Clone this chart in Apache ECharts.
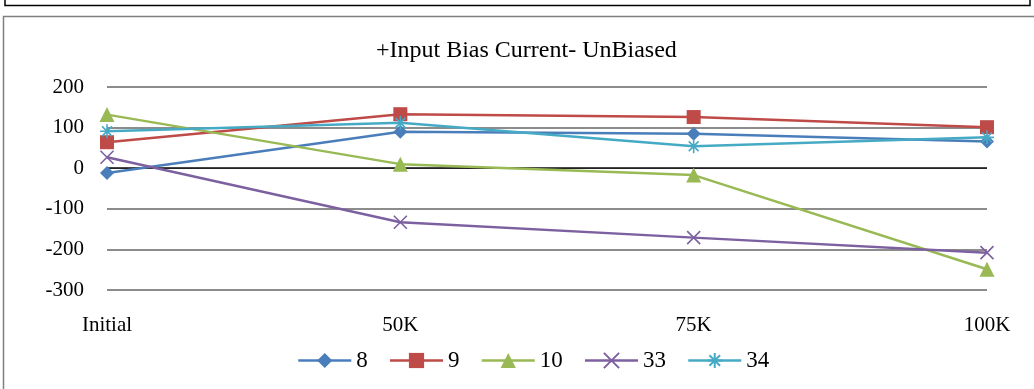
<!DOCTYPE html>
<html>
<head>
<meta charset="utf-8">
<script src="https://cdn.jsdelivr.net/npm/echarts@6/dist/echarts.min.js"></script>
<style>
  html, body { margin: 0; padding: 0; background: #fff; }
  #chart { width: 1034px; height: 389px; }
</style>
</head>
<body>
<div id="chart"></div>
<script>
// Test points along the x axis
const categories = ['Initial', '50K', '75K', '100K'];

// Input bias current readings per device
const seriesNames = ['8', '9', '10', '33', '34'];
const dev8  = [-12, 90, 85, 66];
const dev9  = [64, 133, 126, 101];
const dev10 = [132, 10, -17, -249];
const dev33 = [27, -133, -171, -208];
const dev34 = [91, 112, 54, 76];

const yTicks = [-300, -200, -100, 0, 100, 200];

const colors = ['#4A7EBB', '#BE4B48', '#98B954', '#7D60A0', '#46AAC5'];
const symbols = ['diamond', 'rect', 'triangle', 'path://M0,0 L10,10 M10,0 L0,10',
  'path://M5,0 L5,10 M0,5 L10,5 M1.5,1.5 L8.5,8.5 M8.5,1.5 L1.5,8.5'];
const symbolSizes = [14, 14, 15, 13, 14];
const values = [dev8, dev9, dev10, dev33, dev34];

const font = '"Liberation Serif", "Times New Roman", serif';

const chart = echarts.init(document.getElementById('chart'), null, { renderer: 'canvas' });

const series = seriesNames.map((name, i) => {
  const isOutline = i >= 3;
  return {
    name: name,
    type: 'line',
    data: values[i],
    symbol: symbols[i],
    symbolSize: symbolSizes[i],
    showAllSymbol: true,
    lineStyle: { color: colors[i], width: 2.5 },
    itemStyle: isOutline
      ? { color: 'none', borderColor: colors[i], borderWidth: 1.6 }
      : { color: colors[i], borderColor: colors[i], borderWidth: 0 },
    emphasis: { disabled: true },
    animation: false,
    z: 3 + i
  };
});

chart.setOption({
  animation: false,
  title: {
    text: '+Input Bias Current- UnBiased',
    left: 376,
    top: 39,
    padding: 0,
    textStyle: { fontFamily: font, fontSize: 24, fontWeight: 'normal', color: '#000' }
  },
  legend: {
    data: seriesNames,
    top: 349,
    left: 297,
    padding: 0,
    itemWidth: 53,
    itemHeight: 19,
    itemGap: 21,
    lineStyle: { width: 2.5 },
    textStyle: { fontFamily: font, fontSize: 23, color: '#000' }
  },
  grid: { left: 107, right: 47, top: 87, bottom: 99, containLabel: false },
  xAxis: {
    type: 'category',
    data: categories,
    boundaryGap: false,
    axisLine: { show: false },
    axisTick: { show: false },
    axisLabel: { fontFamily: font, fontSize: 21, color: '#000', margin: 25 },
    splitLine: { show: false }
  },
  yAxis: {
    type: 'value',
    min: yTicks[0],
    max: yTicks[yTicks.length - 1],
    interval: 100,
    axisLine: { show: false },
    axisTick: { show: false },
    axisLabel: { fontFamily: font, fontSize: 21, color: '#000', margin: 23 },
    splitLine: { lineStyle: { color: '#8C8C8C', width: 2 } }
  },
  graphic: [
    // lower edge of the panel above
    { type: 'polyline', shape: { points: [[5, 0], [5, 5.5], [1030, 5.5], [1030, 0]] },
      style: { stroke: '#000', lineWidth: 1.5, fill: null } },
    // chart frame
    { type: 'polyline', shape: { points: [[3.5, 389], [3.5, 16.5], [1034, 16.5]] },
      style: { stroke: '#7F7F7F', lineWidth: 1.5, fill: null } }
  ],
  series: series.concat([{
    type: 'line',
    data: categories.map(() => 0),
    symbol: 'none',
    lineStyle: { color: '#000', width: 1.2 },
    silent: true,
    z: 2,
    tooltip: { show: false }
  }])
});
</script>
</body>
</html>
